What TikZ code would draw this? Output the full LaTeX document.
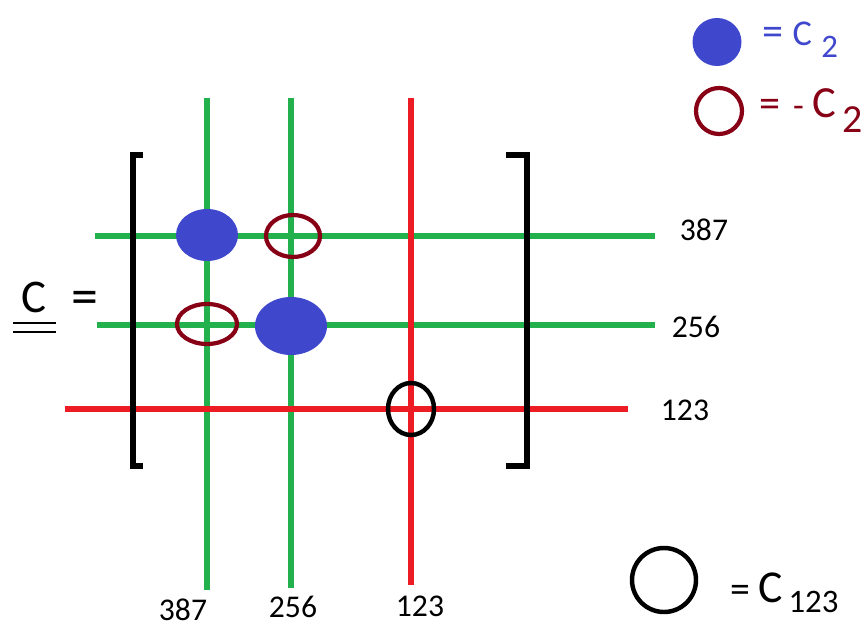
\documentclass[tikz,border=0pt]{standalone}
\usepackage{fontspec}
\setmainfont{Carlito}
\usetikzlibrary{shapes.geometric}
\definecolor{pgreen}{HTML}{22B14C}
\definecolor{pred}{HTML}{ED1C24}
\definecolor{pblue}{HTML}{3F48CC}
\definecolor{pdark}{HTML}{880015}
\newcommand{\fs}[1]{\fontsize{#1}{#1}\selectfont}

\begin{document}
\begin{tikzpicture}[x=0.03cm,y=-0.03cm,
  gline/.style={pgreen,line width=4.3pt},
  rline/.style={pred,line width=4.3pt},
  brk/.style={black,line width=4.3pt,miter limit=10},
  plus/.style={ellipse,fill=pblue,draw=none,inner sep=0pt},
  minus/.style={ellipse,draw=pdark,line width=3.6pt,inner sep=0pt},
  ring/.style={ellipse,draw=black,line width=3.8pt,inner sep=0pt},
  lab/.style={inner sep=0pt,font=\fs{27}},
  key/.style={anchor=base west,inner sep=0pt}]
  \useasboundingbox (0,0) rectangle (868,628);
  % grid lines
  \coordinate (c1t) at (207,98);  \coordinate (c1b) at (207,590);
  \coordinate (c2t) at (291,98);  \coordinate (c2b) at (291,588);
  \coordinate (c3t) at (411,98);  \coordinate (c3b) at (411,585);
  \coordinate (r1l) at (95,236);  \coordinate (r1r) at (655,236);
  \coordinate (r2l) at (97,325);  \coordinate (r2r) at (655,325);
  \coordinate (r3l) at (65,409);  \coordinate (r3r) at (628,409);
  \draw[gline] (c1t)--(c1b); \draw[gline] (c2t)--(c2b);
  \draw[gline] (r1l)--(r1r); \draw[gline] (r2l)--(r2r);
  \draw[rline] (r3l)--(r3r); \draw[rline] (c3t)--(c3b);
  % brackets
  \draw[brk] (143,155) -- (133,155) -- (133,466) -- (143,466);
  \draw[brk] (506,155) -- (527,155) -- (527,466) -- (506,466);
  % entries
  \node[plus,minimum width=1.86cm,minimum height=1.56cm] (p1) at (207,235) {};
  \node[plus,minimum width=2.16cm,minimum height=1.74cm] (p2) at (291,326) {};
  \node[minus,minimum width=1.62cm,minimum height=1.26cm] (m1) at (293,236) {};
  \node[minus,minimum width=1.80cm,minimum height=1.20cm] (m2) at (207,324) {};
  \node[ring,minimum width=1.38cm,minimum height=1.56cm] (o1) at (411,409) {};
  % index labels
  \node[lab] (l1) at (704,230) {387};
  \node[lab] (l2) at (696,327) {256};
  \node[lab] (l3) at (685,410) {123};
  \node[lab] (b1) at (183,610) {387};
  \node[lab] (b2) at (293,607) {256};
  \node[lab] (b3) at (420,606) {123};
  % C =
  \node[key,font=\fs{40}] (cc) at (21,313) {C};
  \node[inner sep=0pt,font=\fs{46}] (eq) at (85,303) {=};
  \coordinate (u1) at (13,323); \coordinate (u2) at (56,323);
  \coordinate (u3) at (13,332); \coordinate (u4) at (56,332);
  \draw[line width=1.8pt] (u1)--(u2); \draw[line width=1.8pt] (u3)--(u4);
  % legend
  \node[plus,minimum width=1.47cm,minimum height=1.44cm] (k1) at (717,42) {};
  \node[key,text=pblue,font=\fs{31}] (t1) at (762,46)
    {{\fs{36}=}\hspace{8pt}C\hspace{8pt}\raisebox{-10pt}{\fs{28}2}};
  \node[minus,minimum width=1.38cm,minimum height=1.38cm] (k2) at (719,111) {};
  \node[key,text=pdark,font=\fs{38}] (t2) at (759,118)
    {{\fs{36}=}\hspace{11pt}{\fs{30}-}\hspace{7pt}C\hspace{6pt}\raisebox{-12pt}{\fs{34}2}};
  \node[ring,minimum width=1.92cm,minimum height=1.92cm] (k3) at (664,580) {};
  \node[key,font=\fs{39}] (t3) at (730,602)
    {{\fs{34}=}\hspace{7pt}C\hspace{5pt}\raisebox{-9pt}{\fs{28}123}};
\end{tikzpicture}
\end{document}
